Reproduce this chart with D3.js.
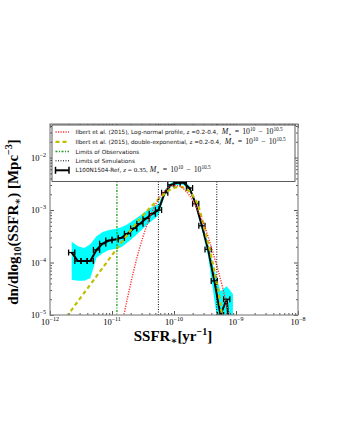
<!DOCTYPE html>
<html>
<head>
<meta charset="utf-8">
<script src="https://cdn.jsdelivr.net/npm/d3@7"></script>
<style>
  body { margin: 0; background: #fff; }
  svg { display: block; }
</style>
</head>
<body>
<div id="chart"></div>
<script>
// simulation bins (log10 SSFR, bin centres) and densities
var binLogSSFR = [-11.65, -11.55, -11.45, -11.35, -11.25, -11.15, -11.05, -10.95, -10.85, -10.75,
  -10.65, -10.55, -10.45, -10.35, -10.25, -10.15, -10.05, -9.95, -9.85, -9.75,
  -9.65, -9.55, -9.45, -9.35, -9.25, -9.15, -9.05];
var simDensity = [1.55e-4, 1.07e-4, 1.07e-4, 1.07e-4, 1.74e-4, 2.29e-4, 2.63e-4, 2.75e-4, 2.95e-4, 3.55e-4,
  4.47e-4, 5.5e-4, 6.92e-4, 8.51e-4, 1.0e-3, 2.14e-3, 3.02e-3, 3.3e-3, 3.35e-3, 2.63e-3,
  1.32e-3, 5.01e-4, 1.78e-4, 4.47e-5, 1.0e-5, 2.0e-5, 1.0e-6];
var bandLow = [4.7e-5, 4.5e-5, 4.5e-5, 5.0e-5, 1.23e-4, 1.51e-4, 1.74e-4, 1.82e-4, 1.95e-4, 2.4e-4,
  3.02e-4, 3.89e-4, 5.01e-4, 6.31e-4, 7.94e-4, 1.9e-3, 2.75e-3, 3.0e-3, 3.05e-3, 2.4e-3,
  1.17e-3, 4.17e-4, 1.32e-4, 2.0e-5, 3.2e-6, 3.2e-6, 1.0e-6];
var bandHigh = [2.5e-4, 2.04e-4, 1.9e-4, 2.24e-4, 3.16e-4, 3.8e-4, 4.17e-4, 4.37e-4, 4.68e-4, 5.37e-4,
  6.46e-4, 7.76e-4, 9.55e-4, 1.15e-3, 1.29e-3, 2.4e-3, 3.31e-3, 3.65e-3, 3.7e-3, 2.88e-3,
  1.48e-3, 5.89e-4, 2.24e-4, 7.08e-5, 2.82e-5, 3.55e-5, 2.5e-5];
var binHalfWidth = 0.05;

// Ilbert et al. (2015) curves (log10 values)
var lognormLogSSFR = [-10.85, -10.8, -10.7, -10.6, -10.5, -10.4, -10.3, -10.2, -10.1, -10.0,
  -9.9, -9.8, -9.7, -9.6, -9.5, -9.4, -9.3, -9.2, -9.1, -9.0];
var lognormLogN = [-5.27, -4.96, -4.41, -3.92, -3.51, -3.17, -2.90, -2.71, -2.58, -2.53,
  -2.55, -2.65, -2.81, -3.05, -3.33, -3.70, -4.10, -4.55, -5.05, -5.6];
var dexpLogSSFR = [-11.8, -11.7, -11.6, -11.5, -11.4, -11.3, -11.2, -11.1, -11.0, -10.9,
  -10.8, -10.7, -10.6, -10.5, -10.4, -10.3, -10.2, -10.1, -10.0, -9.9,
  -9.8, -9.7, -9.6, -9.5, -9.4, -9.3, -9.2];
var dexpLogN = [-5.14, -4.98, -4.82, -4.66, -4.50, -4.34, -4.18, -4.02, -3.86, -3.70,
  -3.54, -3.39, -3.24, -3.10, -2.97, -2.85, -2.74, -2.64, -2.58, -2.56,
  -2.60, -2.72, -2.95, -3.40, -3.88, -4.45, -5.2];

var obsLimits = [1.2e-11];
var simLimits = [5.6e-11, 4.9e-10];

var xTickExps = [-12, -11, -10, -9, -8];
var yTickExps = [-5, -4, -3, -2];

var svgWidth = 340;
var svgHeight = 440;
var margin = { top: 124, right: 42, bottom: 125, left: 50 };
var width = svgWidth - margin.left - margin.right;
var height = svgHeight - margin.top - margin.bottom;

var svg = d3.select("#chart").append("svg")
  .attr("width", svgWidth)
  .attr("height", svgHeight);

var chartGroup = svg.append("g")
  .attr("transform", `translate(${margin.left}, ${margin.top})`);

var xScale = d3.scaleLog().domain([1e-12, 1e-8]).range([0, width]);
var yScale = d3.scaleLog().domain([1e-5, Math.pow(10, -1.36)]).range([height, 0]);

svg.append("defs").append("clipPath").attr("id", "plotclip")
  .append("rect").attr("width", width).attr("height", height);

var plot = chartGroup.append("g").attr("clip-path", "url(#plotclip)");

// cyan band
var simData = binLogSSFR.map(function(ls, i) {
  return { s: Math.pow(10, ls), ls: ls, n: simDensity[i], lo: bandLow[i], hi: bandHigh[i] };
});
plot.append("path")
  .datum(simData)
  .attr("fill", "#00ffff")
  .attr("d", d3.area()
    .x(d => xScale(d.s))
    .y0(d => yScale(d.lo))
    .y1(d => yScale(d.hi)));

// simulation line + bin width error bars
plot.append("path")
  .datum(simData)
  .attr("fill", "none")
  .attr("stroke", "black")
  .attr("stroke-width", 2)
  .attr("d", d3.line().x(d => xScale(d.s)).y(d => yScale(d.n)));

var bars = plot.selectAll(".xerr").data(simData).enter().append("g").attr("class", "xerr")
  .attr("stroke", "black").attr("stroke-width", 1.3);
bars.append("line")
  .attr("x1", d => xScale(Math.pow(10, d.ls - binHalfWidth)))
  .attr("x2", d => xScale(Math.pow(10, d.ls + binHalfWidth)))
  .attr("y1", d => yScale(d.n)).attr("y2", d => yScale(d.n));
[-1, 1].forEach(function(side) {
  bars.append("line")
    .attr("x1", d => xScale(Math.pow(10, d.ls + side * binHalfWidth)))
    .attr("x2", d => xScale(Math.pow(10, d.ls + side * binHalfWidth)))
    .attr("y1", d => yScale(d.n) - 3).attr("y2", d => yScale(d.n) + 3);
});

// model curves
var modelLine = d3.line()
  .x(d => xScale(Math.pow(10, d[0])))
  .y(d => yScale(Math.pow(10, d[1])))
  .curve(d3.curveMonotoneX);

plot.append("path")
  .datum(dexpLogSSFR.map((v, i) => [v, dexpLogN[i]]))
  .attr("fill", "none")
  .attr("stroke", "#bfbf00")
  .attr("stroke-width", 2.2)
  .attr("stroke-dasharray", "4,3")
  .attr("d", modelLine);

plot.append("path")
  .datum(lognormLogSSFR.map((v, i) => [v, lognormLogN[i]]))
  .attr("fill", "none")
  .attr("stroke", "#ff3030")
  .attr("stroke-width", 1.4)
  .attr("stroke-dasharray", "1.2,1.3")
  .attr("d", modelLine);

// limits
plot.selectAll(".obs").data(obsLimits).enter().append("line")
  .attr("x1", d => xScale(d)).attr("x2", d => xScale(d))
  .attr("y1", 0).attr("y2", height)
  .attr("stroke", "#229922").attr("stroke-width", 1.3)
  .attr("stroke-dasharray", "2,1.5,1,1.5");

plot.selectAll(".sim").data(simLimits).enter().append("line")
  .attr("x1", d => xScale(d)).attr("x2", d => xScale(d))
  .attr("y1", 0).attr("y2", height)
  .attr("stroke", "black").attr("stroke-width", 1)
  .attr("stroke-dasharray", "1,1.5");

// ticks on all four sides, pointing inward
var xMinor = [], yMinor = [];
for (var e = -12; e < -8; e++) for (var m = 2; m < 10; m++) xMinor.push(m * Math.pow(10, e));
for (var e2 = -5; e2 < -1; e2++) for (var m2 = 2; m2 < 10; m2++) {
  var v = m2 * Math.pow(10, e2);
  if (v < yScale.domain()[1]) yMinor.push(v);
}
var xMajor = xTickExps.map(e => Math.pow(10, e));
var yMajor = yTickExps.map(e => Math.pow(10, e));

function addAxis(axis, transform) {
  chartGroup.append("g")
    .attr("transform", transform)
    .call(axis)
    .call(g => g.select(".domain").remove())
    .call(g => g.selectAll("line").attr("stroke", "#555"));
}
addAxis(d3.axisBottom(xScale).tickValues(xMajor).tickSize(-4).tickFormat(""), `translate(0,${height})`);
addAxis(d3.axisBottom(xScale).tickValues(xMinor).tickSize(-2).tickFormat(""), `translate(0,${height})`);
addAxis(d3.axisTop(xScale).tickValues(xMajor).tickSize(-4).tickFormat(""), "translate(0,0)");
addAxis(d3.axisTop(xScale).tickValues(xMinor).tickSize(-2).tickFormat(""), "translate(0,0)");
addAxis(d3.axisLeft(yScale).tickValues(yMajor).tickSize(-4).tickFormat(""), "translate(0,0)");
addAxis(d3.axisLeft(yScale).tickValues(yMinor).tickSize(-2).tickFormat(""), "translate(0,0)");
addAxis(d3.axisRight(yScale).tickValues(yMajor).tickSize(-4).tickFormat(""), `translate(${width},0)`);
addAxis(d3.axisRight(yScale).tickValues(yMinor).tickSize(-2).tickFormat(""), `translate(${width},0)`);

chartGroup.append("rect")
  .attr("width", width).attr("height", height)
  .attr("fill", "none").attr("stroke", "#888").attr("stroke-width", 1.2);

// tick labels 10^n
var serif = "'Liberation Serif', 'DejaVu Serif', serif";
function powLabel(sel, exp) {
  sel.append("tspan").text("10");
  sel.append("tspan").attr("font-size", 6).attr("dy", -4).text("\u2212" + Math.abs(exp));
}
chartGroup.selectAll(".xlab").data(xTickExps).enter().append("text")
  .attr("x", d => xScale(Math.pow(10, d)))
  .attr("y", height + 9.5)
  .attr("text-anchor", "middle")
  .attr("font-family", serif).attr("font-size", 8.5)
  .each(function(d) { powLabel(d3.select(this), d); });
chartGroup.selectAll(".ylab").data(yTickExps).enter().append("text")
  .attr("x", -4)
  .attr("y", d => yScale(Math.pow(10, d)) + 3)
  .attr("text-anchor", "end")
  .attr("font-family", serif).attr("font-size", 8.5)
  .each(function(d) { powLabel(d3.select(this), d); });

// axis titles
var xTitle = svg.append("text")
  .attr("x", 173).attr("y", 340.5)
  .attr("text-anchor", "middle")
  .attr("font-family", serif).attr("font-weight", "bold").attr("font-size", 15);
xTitle.append("tspan").text("SSFR");
xTitle.append("tspan").attr("font-size", 10).attr("dy", 3).text("\u2217");
xTitle.append("tspan").attr("dy", -3).text("[yr");
xTitle.append("tspan").attr("font-size", 10).attr("dy", -5.5).text("\u22121");
xTitle.append("tspan").attr("dy", 5.5).text("]");

var yTitle = svg.append("text")
  .attr("transform", "translate(18,222) rotate(-90)")
  .attr("text-anchor", "middle")
  .attr("font-family", serif).attr("font-weight", "bold").attr("font-size", 15);
yTitle.append("tspan").text("dn/dlog");
yTitle.append("tspan").attr("font-size", 10).attr("dy", 3).text("10");
yTitle.append("tspan").attr("dy", -3).text("(SSFR");
yTitle.append("tspan").attr("font-size", 10).attr("dy", 3).text("\u2217");
yTitle.append("tspan").attr("dy", -3).text(") [Mpc");
yTitle.append("tspan").attr("font-size", 10).attr("dy", -6).text("\u22123");
yTitle.append("tspan").attr("dy", 6).text("]");

// legend
var sans = "'DejaVu Sans', Verdana, sans-serif";
var legend = svg.append("g");
legend.append("rect")
  .attr("x", 52).attr("y", 125).attr("width", 243).attr("height", 56.5)
  .attr("fill", "white").attr("stroke", "#333").attr("stroke-width", 0.8);

var legendRows = [
  { y: 134, kind: "red", pre: "Ilbert et al. (2015), Log-normal profile, z =0.2-0.4, ", math: true },
  { y: 143.8, kind: "yellow", pre: "Ilbert et al. (2015), double-exponential, z =0.2-0.4, ", math: true },
  { y: 153.5, kind: "green", pre: "Limits of Observations", math: false },
  { y: 162.8, kind: "dotted", pre: "Limits of Simulations", math: false },
  { y: 172.3, kind: "err", pre: "L100N1504-Ref, ", math: true, z: true }
];
function mathPart(t, str, size, dy, dx) {
  return t.append("tspan").attr("font-family", serif).attr("font-size", size)
    .attr("dy", dy || 0).attr("dx", dx || 0).text(str);
}
legendRows.forEach(function(r) {
  var hx1 = 55.5, hx2 = 69;
  var h = legend.append("line").attr("x1", hx1).attr("x2", hx2).attr("y1", r.y - 2).attr("y2", r.y - 2);
  if (r.kind === "red") h.attr("stroke", "#ff3030").attr("stroke-width", 1.4).attr("stroke-dasharray", "1.2,1.3");
  if (r.kind === "yellow") h.attr("stroke", "#bfbf00").attr("stroke-width", 2.2).attr("stroke-dasharray", "4,3");
  if (r.kind === "green") h.attr("stroke", "#229922").attr("stroke-width", 1.3).attr("stroke-dasharray", "2,1.5,1,1.5");
  if (r.kind === "dotted") h.attr("stroke", "black").attr("stroke-width", 1).attr("stroke-dasharray", "1,1.5");
  if (r.kind === "err") {
    h.attr("stroke", "black").attr("stroke-width", 2);
    [hx1, hx2].forEach(function(cx) {
      legend.append("line").attr("x1", cx).attr("x2", cx).attr("y1", r.y - 5.5).attr("y2", r.y + 1.5)
        .attr("stroke", "black").attr("stroke-width", 1.5);
    });
  }
  var t = legend.append("text").attr("x", 75.5).attr("y", r.y)
    .attr("font-family", sans).attr("font-size", 5.7).attr("fill", "#111");
  t.append("tspan").text(r.pre);
  if (r.z) {
    mathPart(t, "z", 7).attr("font-style", "italic");
    mathPart(t, "=", 7, 0, 2);
    mathPart(t, "0.35,", 7, 0, 2);
  }
  if (r.math) {
    mathPart(t, "M", 7.8, 0, 2).attr("font-style", "italic");
    mathPart(t, "\u2217", 5, 1.5);
    mathPart(t, "=", 7.8, -1.5, 3);
    mathPart(t, "10", 7.8, 0, 3);
    mathPart(t, "10", 5.3, -3);
    mathPart(t, "\u2212", 7.8, 3, 3);
    mathPart(t, "10", 7.8, 0, 3);
    mathPart(t, "10.5", 5.3, -3);
  }
});
</script>
</body>
</html>
